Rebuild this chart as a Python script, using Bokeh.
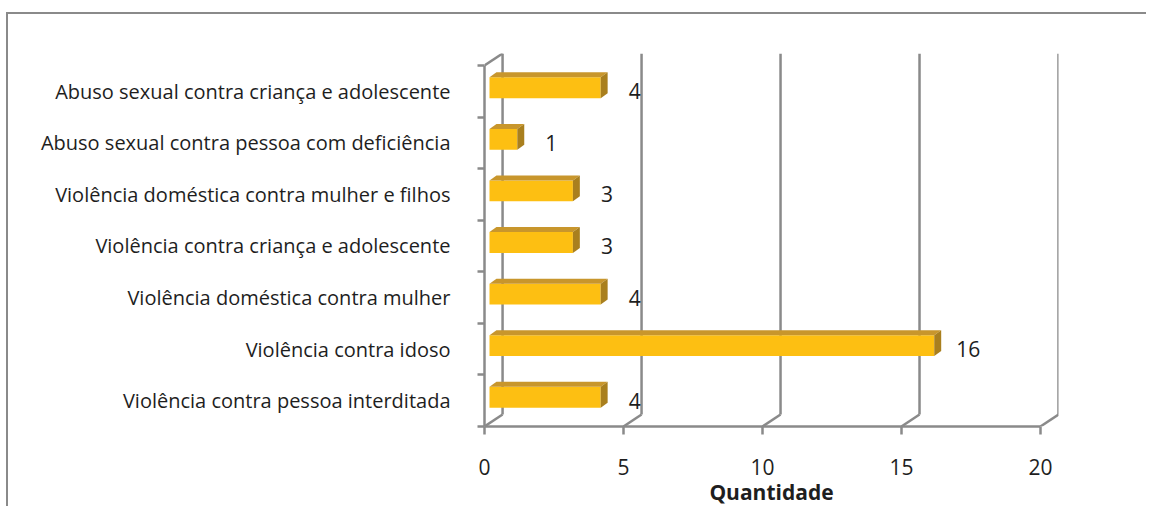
from bokeh.plotting import figure
from bokeh.models import Range1d, FixedTicker, ColumnDataSource
from bokeh.core.properties import value
from bokeh.embed import file_html
from bokeh.resources import INLINE

# ---- data (top to bottom, as in the picture) ----
categories = [
    "Abuso sexual contra criança e adolescente",
    "Abuso sexual contra pessoa com deficiência",
    "Violência doméstica contra mulher e filhos",
    "Violência contra criança e adolescente",
    "Violência doméstica contra mulher",
    "Violência contra idoso",
    "Violência contra pessoa interditada",
]
counts = [4, 1, 3, 3, 4, 16, 4]
x_ticks = [0, 5, 10, 15, 20]
x_title = "Quantidade"

FONT = "Open Sans"
TXT = "#1e1e1e"
GRID = "#8a8a8a"
FRONT = "#FDBF12"
TOP = "#C8962C"
SIDE = "#A97F1E"

n = len(categories)
ys = [n - i for i in range(n)]          # 7 at top ... 1 at bottom

# 3D depth (data units)
DX, DY = 0.65, 0.232                      # wall depth
BX0 = 0.18                                # bar front-face start
BDX, BDY = 0.25, 0.097                    # bar depth
F_LO, F_HI = -0.135, 0.27                 # bar front face relative to centre

p = figure(width=1140, height=494, output_backend="svg", toolbar_location=None,
           x_range=Range1d(0, 20.65), y_range=Range1d(0.5, n + 0.5 + DY),
           min_border_left=476, min_border_right=90, min_border_top=39,
           min_border_bottom=81)
p.outline_line_color = None
p.xgrid.visible = False
p.ygrid.visible = False
p.styles = {"border-left": "2px solid #8a8a8a", "border-top": "2px solid #8a8a8a",
            "margin-left": "6px", "margin-top": "12px"}

# back wall vertical grid lines
p.segment(x0=[t + DX for t in x_ticks], y0=[0.5 + DY] * len(x_ticks),
          x1=[t + DX for t in x_ticks], y1=[n + 0.5 + DY] * len(x_ticks),
          line_color=GRID, line_width=2.5)
# floor diagonals + top-left diagonal
p.segment(x0=x_ticks + [0], y0=[0.5] * len(x_ticks) + [n + 0.5],
          x1=[t + DX for t in x_ticks] + [DX], y1=[0.5 + DY] * len(x_ticks) + [n + 0.5 + DY],
          line_color=GRID, line_width=2.5)

# bars
p.hbar(y=[y + (F_LO + F_HI) / 2 for y in ys], left=BX0,
       right=[v + BX0 for v in counts], height=F_HI - F_LO,
       fill_color=FRONT, line_color=None)
top_xs, top_ys, side_xs, side_ys = [], [], [], []
for y, v in zip(ys, counts):
    x0, x1 = BX0, v + BX0
    yt, yb = y + F_HI, y + F_LO
    top_xs.append([x0, x1, x1 + BDX, x0 + BDX])
    top_ys.append([yt, yt, yt + BDY, yt + BDY])
    side_xs.append([x1, x1 + BDX, x1 + BDX, x1])
    side_ys.append([yb, yb + BDY, yt + BDY, yt])
p.patches(top_xs, top_ys, fill_color=TOP, line_color=None)
p.patches(side_xs, side_ys, fill_color=SIDE, line_color=None)

# value labels
p.text(x=[v + BX0 for v in counts], y=ys, text=[str(v) for v in counts],
       x_offset=34, text_align="center", text_baseline="middle",
       text_font=value(FONT), text_font_size="21px", text_color=TXT)

# x axis
xa = p.xaxis[0]
xa.ticker = FixedTicker(ticks=x_ticks)
xa.bounds = (0, 20)
xa.axis_line_color = GRID
xa.axis_line_width = 2.5
xa.major_tick_line_color = GRID
xa.major_tick_line_width = 2.5
xa.major_tick_out = 8
xa.major_tick_in = 0
xa.minor_tick_line_color = None
xa.major_label_standoff = 24
xa.major_label_text_font = FONT
xa.major_label_text_font_size = "21px"
xa.major_label_text_color = TXT
xa.axis_label = x_title
xa.axis_label_text_font = FONT
xa.axis_label_text_font_size = "21px"
xa.axis_label_text_font_style = "bold"
xa.axis_label_text_color = TXT
xa.axis_label_standoff = 0

# y axis
ya = p.yaxis[0]
ya.ticker = FixedTicker(ticks=ys, minor_ticks=[k + 0.5 for k in range(n + 1)])
ya.bounds = (0.5, n + 0.5)
ya.major_label_overrides = {y: c for y, c in zip(ys, categories)}
ya.axis_line_color = GRID
ya.axis_line_width = 2.5
ya.major_tick_line_color = None
ya.major_tick_out = 0
ya.major_tick_in = 0
ya.minor_tick_line_color = GRID
ya.minor_tick_line_width = 2.5
ya.minor_tick_out = 7
ya.minor_tick_in = 0
ya.major_label_standoff = 27
ya.major_label_text_font = FONT
ya.major_label_text_font_size = "20px"
ya.major_label_text_color = TXT

open("out.html", "w").write(file_html(p, INLINE))
